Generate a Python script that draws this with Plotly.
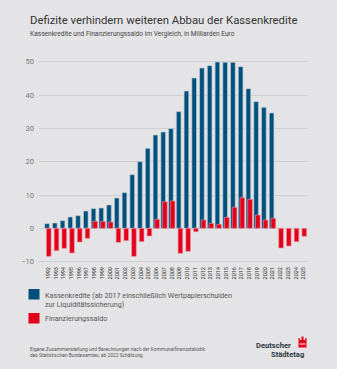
import plotly.graph_objects as go

years = list(range(1992, 2026))
kassenkredite = [1.4, 1.6, 2.3, 3.4, 3.8, 5.2, 5.9, 6.1, 7.0, 9.1, 10.7, 16.1, 20.0, 24.0, 28.0, 28.9, 29.9,
                 35.0, 41.2, 45.1, 48.1, 48.8, 49.9, 49.8, 49.8, 48.5, 41.9, 38.0, 36.3, 34.6]
kk_years = years[:len(kassenkredite)]
saldo = [-8.4, -6.7, -6.0, -7.4, -4.1, -3.0, 2.1, 2.1, 1.9, -4.2, -3.7, -8.4, -4.0, -2.3, 2.7, 8.0, 8.2,
         -7.5, -6.9, -1.0, 2.5, 1.5, 1.2, 3.3, 6.3, 9.2, 8.7, 4.0, 2.5, 3.0, -5.9, -5.3, -4.0, -2.4]
tick_labels = [str(y) for y in years]
y_ticks = [-10, 0, 10, 20, 30, 40, 50]

BLUE = "#00507b"
RED = "#e2001a"
BG = "#e4e4e6"
W, H = 337, 369
ML, MR, MT, MB = 39, 29, 55, 104
PW, PH = W - ML - MR, H - MT - MB

fig = go.Figure()
fig.add_trace(go.Bar(x=kk_years, y=kassenkredite, width=0.6, offset=-0.42,
                     marker=dict(color=BLUE, line=dict(color="rgba(190,205,215,0.8)", width=0.8)),
                     name="Kassenkredite", showlegend=False))
fig.add_trace(go.Bar(x=years, y=saldo, width=0.6, offset=-0.2,
                     marker=dict(color=RED, line=dict(color="rgba(240,150,160,0.8)", width=0.8)),
                     name="Finanzierungssaldo", showlegend=False))

fig.update_layout(
    width=W, height=H, barmode="overlay",
    paper_bgcolor=BG, plot_bgcolor=BG,
    margin=dict(l=ML, r=MR, t=MT, b=MB),
    font=dict(family="Roboto, sans-serif", color="#444"),
    xaxis=dict(range=[1990.84, 2025.58], tickvals=years, ticktext=tick_labels, tickangle=-90,
               tickfont=dict(size=5.5, color="#333"), showgrid=False, zeroline=False, ticks="",
               showline=False, fixedrange=True),
    yaxis=dict(range=[-11, 52], tickvals=y_ticks, tickfont=dict(size=7.5, color="#777"),
               showgrid=True, gridcolor="#cfcfd3", gridwidth=1, zeroline=True, zerolinecolor="#cfcfd3",
               zerolinewidth=1, ticks="", ticklabelstandoff=4, showline=False),
)

def px(x):
    return (x - ML) / PW

def py(y):
    return (H - MB - y) / PH

ann = [
    dict(text="Defizite verhindern weiteren Abbau der Kassenkredite", x=px(28), y=py(21),
         font=dict(size=11.3, color="#333"), xanchor="left", align="left"),
    dict(text="Kassenkredite und Finanzierungssaldo im Vergleich, in Milliarden Euro", x=px(28), y=py(34),
         font=dict(size=6.6, color="#444"), xanchor="left", align="left"),
    dict(text="Kassenkredite (ab 2017 einschließlich Wertpapierschulden<br>zur Liquiditätssicherung)",
         x=px(43), y=py(300), font=dict(size=7.2, color="#555"), xanchor="left", align="left"),
    dict(text="Finanzierungssaldo", x=px(43), y=py(318), font=dict(size=7.2, color="#555"),
         xanchor="left", align="left"),
    dict(text="Eigene Zusammenstellung und Berechnungen nach der Kommunalfinanzstatistik<br>"
              "des Statistischen Bundesamtes, ab 2022 Schätzung.",
         x=px(28), y=py(352), font=dict(size=4.9, color="#555"), xanchor="left", align="left"),
    dict(text="<b>Deutscher</b>", x=px(293), y=py(345),
         font=dict(size=7.6, color="#2d3540"), xanchor="right", align="right"),
    dict(text="<b>Städtetag</b>", x=px(306), y=py(354.5),
         font=dict(size=7.6, color="#2d3540"), xanchor="right", align="right"),
]
for a in ann:
    fig.add_annotation(xref="paper", yref="paper", yanchor="middle", showarrow=False, **a)

# legend swatches and logo icon
shapes = [
    dict(x0=px(28.5), x1=px(39.5), y0=py(289), y1=py(299.5), fillcolor=BLUE),
    dict(x0=px(28.5), x1=px(39.5), y0=py(313), y1=py(323.5), fillcolor=RED),
    dict(x0=px(298.5), x1=px(306.5), y0=py(340), y1=py(347.5), fillcolor=RED),
    dict(x0=px(301.5), x1=px(303.5), y0=py(336.5), y1=py(340), fillcolor=RED),
    dict(x0=px(298.5), x1=px(299.8), y0=py(338), y1=py(340), fillcolor=RED),
    dict(x0=px(305.2), x1=px(306.5), y0=py(338), y1=py(340), fillcolor=RED),
    dict(x0=px(299.5), x1=px(305.5), y0=py(343.5), y1=py(344.5), fillcolor="white"),
]
for s in shapes:
    fig.add_shape(type="rect", xref="paper", yref="paper", line=dict(width=0), layer="above", **s)

fig.write_html("out.html")
